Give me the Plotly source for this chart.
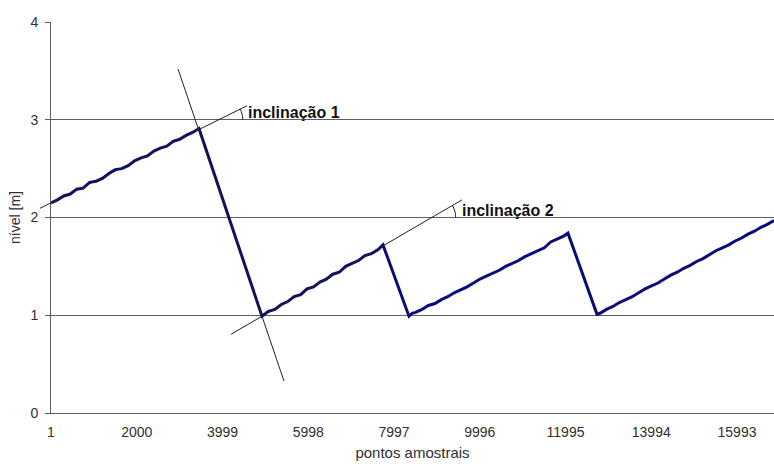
import math
import plotly.graph_objects as go

# Sample index and level [m] along the recorded series
samples = [
    1, 150, 300, 450, 600, 750, 900, 1050, 1200, 1350, 1500, 1650, 1800, 1950,
    2100, 2250, 2400, 2550, 2700, 2850, 3000, 3150, 3300, 3380, 3451,
    4920, 5070, 5220, 5370, 5520, 5670, 5820, 5970, 6120, 6270, 6420, 6570,
    6720, 6870, 7020, 7170, 7320, 7470, 7620, 7740,
    8346, 8420, 8500, 8650, 8800, 8950, 9100, 9250, 9400, 9550, 9700, 9850,
    10000, 10150, 10300, 10450, 10600, 10750, 10900, 11050, 11200, 11350,
    11500, 11650, 11800, 11950, 12052,
    12729, 12800, 12950, 13100, 13250, 13400, 13550, 13700, 13850, 14000,
    14150, 14300, 14450, 14600, 14750, 14900, 15050, 15200, 15350, 15500,
    15650, 15800, 15950, 16100, 16250, 16400, 16550, 16700, 16855,
]
level = [
    2.15, 2.18, 2.22, 2.24, 2.29, 2.30, 2.36, 2.37, 2.40, 2.45, 2.49, 2.50,
    2.53, 2.58, 2.61, 2.63, 2.68, 2.71, 2.73, 2.78, 2.80, 2.84, 2.87, 2.89, 2.91,
    0.99, 1.04, 1.06, 1.11, 1.14, 1.19, 1.21, 1.27, 1.29, 1.34, 1.37, 1.42,
    1.44, 1.50, 1.53, 1.56, 1.61, 1.63, 1.67, 1.72,
    0.99, 1.02, 1.03, 1.06, 1.10, 1.12, 1.16, 1.19, 1.23, 1.26, 1.29, 1.33,
    1.37, 1.40, 1.43, 1.46, 1.50, 1.53, 1.56, 1.60, 1.63, 1.66,
    1.69, 1.75, 1.78, 1.81, 1.84,
    1.01, 1.02, 1.06, 1.09, 1.13, 1.16, 1.19, 1.23, 1.27, 1.30,
    1.33, 1.37, 1.41, 1.44, 1.48, 1.51, 1.55, 1.58, 1.62, 1.66,
    1.69, 1.72, 1.76, 1.79, 1.83, 1.86, 1.90, 1.93, 1.97,
]

x_ticks = [1, 2000, 3999, 5998, 7997, 9996, 11995, 13994, 15993]
y_ticks = [0, 1, 2, 3, 4]
x_range = [1, 16855]
y_range = [0, 4]

# Construction lines, in data units
ramp1_start = (1, 2.15)
ramp1_peak = (3451, 2.90)
ramp2_start = (4920, 0.99)
ramp2_peak = (7740, 1.71)
fall_line = (2961, 3.52, 5432, 0.327)

slope_labels = ["inclinação 1", "inclinação 2"]

LINE = "#0c0c78"
GRID = "#5e5e5e"
TEXT = "#303030"
FONT = "Liberation Sans, Arial, sans-serif"


def line_at(p, q, x):
    return p[1] + (q[1] - p[1]) / (q[0] - p[0]) * (x - p[0])


def x_at(p, q, y):
    return p[0] + (y - p[1]) * (q[0] - p[0]) / (q[1] - p[1])


def to_paper_x(x):
    return (x - x_range[0]) / (x_range[1] - x_range[0])


def to_paper_y(y):
    return (y - y_range[0]) / (y_range[1] - y_range[0])


fig = go.Figure()
fig.add_trace(go.Scatter(
    x=samples, y=level, mode="lines",
    line=dict(color=LINE, width=3),
    hoverinfo="skip", showlegend=False,
))

shapes = []
thin = dict(color="#202020", width=1)

# tangent to the first ramp (runs slightly past the y axis)
t1x0, t1x1 = -255, 4570
shapes.append(dict(
    type="line", xref="paper", yref="paper",
    x0=to_paper_x(t1x0), y0=to_paper_y(line_at(ramp1_start, ramp1_peak, t1x0)),
    x1=to_paper_x(t1x1), y1=to_paper_y(line_at(ramp1_start, ramp1_peak, t1x1)),
    line=thin, layer="above",
))
# line along the first fall
shapes.append(dict(
    type="line", xref="x", yref="y",
    x0=fall_line[0], y0=fall_line[1], x1=fall_line[2], y1=fall_line[3],
    line=thin, layer="above",
))
# tangent to the second ramp
t2x0, t2x1 = 4197, 9582
shapes.append(dict(
    type="line", xref="x", yref="y",
    x0=t2x0, y0=line_at(ramp2_start, ramp2_peak, t2x0),
    x1=t2x1, y1=line_at(ramp2_start, ramp2_peak, t2x1),
    line=thin, layer="above",
))


def angle_arc(p, q, y_level, radius, ang_deg):
    """Angle mark between a tangent and a gridline, as a cubic Bezier arc."""
    a = math.radians(ang_deg)
    cx = x_at(p, q, y_level)
    k = 4.0 / 3.0 * math.tan(a / 4.0) * radius
    p0 = (radius * math.cos(a), radius * math.sin(a))
    p1 = (p0[0] + k * math.sin(a), p0[1] - k * math.cos(a))
    p2 = (radius, k)
    p3 = (radius, 0)
    path = (f"M {p0[0]:.2f},{p0[1]:.2f} C {p1[0]:.2f},{p1[1]:.2f} "
            f"{p2[0]:.2f},{p2[1]:.2f} {p3[0]:.2f},{p3[1]:.2f}")
    return dict(
        type="path", xref="x", yref="y",
        xsizemode="pixel", ysizemode="pixel",
        xanchor=cx, yanchor=y_level,
        path=path, line=thin, layer="above",
    )


shapes.append(angle_arc(ramp1_start, ramp1_peak, 3, 24, 27))
shapes.append(angle_arc(ramp2_start, ramp2_peak, 2, 24, 31))

annotations = [
    dict(x=4547, y=3.07, xref="x", yref="y", text=f"<b>{slope_labels[0]}</b>",
         showarrow=False, xanchor="left", yanchor="middle",
         font=dict(family=FONT, size=16, color="#111111")),
    dict(x=9535, y=2.07, xref="x", yref="y", text=f"<b>{slope_labels[1]}</b>",
         showarrow=False, xanchor="left", yanchor="middle",
         font=dict(family=FONT, size=16, color="#111111")),
]

fig.update_layout(
    width=774, height=464,
    margin=dict(l=51, r=0, t=22, b=51),
    paper_bgcolor="white", plot_bgcolor="white",
    font=dict(family=FONT, size=14, color=TEXT),
    shapes=shapes, annotations=annotations,
    xaxis=dict(
        range=x_range, tickmode="array", tickvals=x_ticks,
        ticktext=[str(v) for v in x_ticks],
        showgrid=False, zeroline=False,
        showline=True, linecolor=GRID, linewidth=1,
        ticks="", ticklabelstandoff=6,
        title=dict(text="pontos amostrais", standoff=8,
                   font=dict(family=FONT, size=15, color=TEXT)),
    ),
    yaxis=dict(
        range=y_range, tickmode="array", tickvals=y_ticks,
        showgrid=True, gridcolor=GRID, gridwidth=1, zeroline=False,
        showline=True, linecolor=GRID, linewidth=1,
        ticks="outside", ticklen=5, tickcolor=GRID, ticklabelstandoff=4,
        title=dict(text="nível [m]", standoff=6,
                   font=dict(family=FONT, size=14, color=TEXT)),
    ),
)

fig.write_html("out.html")
